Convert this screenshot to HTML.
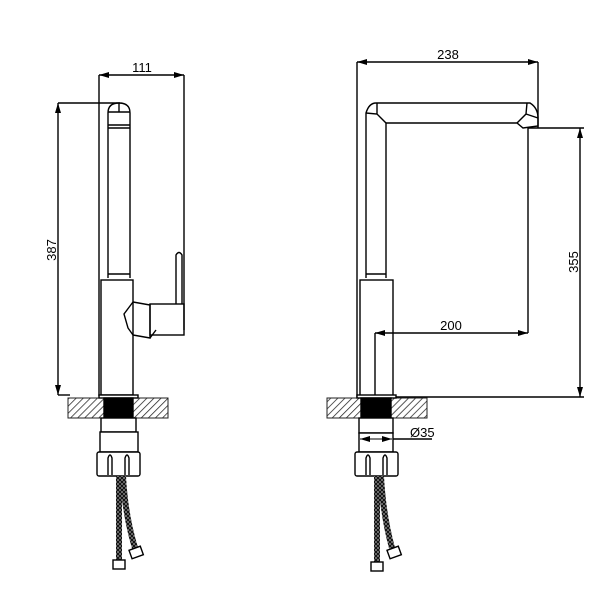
<!DOCTYPE html>
<html><head><style>body{margin:0;background:#fff}svg{display:block}</style></head><body>
<svg width="600" height="600" viewBox="0 0 600 600" xmlns="http://www.w3.org/2000/svg">
<defs>
<pattern id="h" width="5" height="5" patternUnits="userSpaceOnUse" patternTransform="rotate(45)">
<line x1="0" y1="0" x2="0" y2="5" stroke="#222" stroke-width="1.5"/></pattern>
<marker id="a" markerWidth="10" markerHeight="6" refX="10" refY="3" orient="auto-start-reverse" markerUnits="userSpaceOnUse"><path d="M0,0 L10,3 L0,6z" fill="#000"/></marker>
<pattern id="br" width="4" height="4" patternUnits="userSpaceOnUse"><rect width="4" height="4" fill="#999"/><path d="M0,0L4,4M4,0L0,4" stroke="#111" stroke-width="1.2"/></pattern>
</defs>
<g fill="none" stroke="#000" stroke-width="1.4" font-family="Liberation Sans, sans-serif">
<line x1="99" y1="75" x2="99" y2="396"/>
<line x1="184" y1="75" x2="184" y2="330"/>
<line x1="99" y1="75" x2="184" y2="75" marker-start="url(#a)" marker-end="url(#a)"/>
<line x1="58" y1="103" x2="120" y2="103"/>
<line x1="58" y1="103" x2="58" y2="395" marker-start="url(#a)" marker-end="url(#a)"/>
<line x1="58" y1="395" x2="70" y2="395"/>
<path d="M108,278 L108,113 Q108,103 119,103 Q130,103 130,113 L130,278"/>
<line x1="108" y1="125" x2="130" y2="125"/>
<line x1="108" y1="128" x2="130" y2="128"/>
<line x1="119" y1="103" x2="119" y2="112"/>
<line x1="108" y1="112" x2="130" y2="112"/>
<line x1="108" y1="274" x2="130" y2="274"/>
<rect x="101" y="280" width="32" height="115"/>
<path d="M133,302 L124,314 L128,328 L133,335"/>
<path d="M133,302 L150,305 L150,338 L133,335"/>
<rect x="150" y="304" width="34" height="31"/>
<path d="M176,304 L176,255 Q179,250 182,255 L182,304"/>
<line x1="150" y1="338" x2="156" y2="330"/>
<rect x="68" y="398" width="100" height="20" fill="url(#h)" stroke="#222" stroke-width="1"/>
<rect x="99" y="395" width="39" height="3" fill="#fff"/>
<rect x="104" y="398" width="29" height="20" fill="#000"/>
<rect x="101" y="418" width="35" height="14" fill="#fff"/>
<rect x="100" y="432" width="38" height="20" fill="#fff"/>
<rect x="97" y="452" width="43" height="24" rx="2" fill="#fff"/>
<path d="M108,475 L108,458 Q110,452 112,458 L112,475 M125,475 L125,458 Q127,452 129,458 L129,475"/>
<path d="M119,476 L119,560" stroke="url(#br)" stroke-width="6"/>
<path d="M123,476 Q125,515 135,548" stroke="url(#br)" stroke-width="6"/>
<rect x="113" y="560" width="12" height="9" fill="#fff"/>
<rect x="130" y="548" width="12" height="9" fill="#fff" transform="rotate(-20 136 552)"/>

<line x1="357" y1="62" x2="357" y2="398"/>
<line x1="538" y1="62" x2="538" y2="128"/>
<line x1="357" y1="62" x2="538" y2="62" marker-start="url(#a)" marker-end="url(#a)"/>
<line x1="528" y1="128" x2="584" y2="128"/>
<line x1="580" y1="128" x2="580" y2="397" marker-start="url(#a)" marker-end="url(#a)"/>
<line x1="393" y1="397" x2="584" y2="397"/>
<line x1="528" y1="128" x2="528" y2="333"/>
<line x1="375" y1="333" x2="375" y2="397"/>
<line x1="375" y1="333" x2="528" y2="333" marker-start="url(#a)" marker-end="url(#a)"/>
<path d="M366,278 L366,113 Q369,103 376,103 L530,103 Q538,108 538,118 L538,126 L523,128 L517,123 L386,123 L386,278"/>
<path d="M366,113 L377,114 L386,123 M377,103 L377,114 M527,103 L526,114 L517,123 M526,114 L538,118"/>
<line x1="366" y1="274" x2="386" y2="274"/>
<rect x="360" y="280" width="33" height="117"/>
<rect x="327" y="398" width="100" height="20" fill="url(#h)" stroke="#222" stroke-width="1"/>
<rect x="357" y="395" width="39" height="3" fill="#fff"/>
<rect x="361" y="398" width="30" height="20" fill="#000"/>
<rect x="359" y="418" width="34" height="15" fill="#fff"/>
<rect x="359" y="433" width="34" height="19" fill="#fff"/>
<line x1="393" y1="439" x2="432" y2="439"/>
<line x1="360" y1="439" x2="392" y2="439" marker-start="url(#a)" marker-end="url(#a)" stroke-width="1"/>
<rect x="355" y="452" width="43" height="24" rx="2" fill="#fff"/>
<path d="M366,475 L366,458 Q368,452 370,458 L370,475 M383,475 L383,458 Q385,452 387,458 L387,475"/>
<path d="M377,476 L377,562" stroke="url(#br)" stroke-width="6"/>
<path d="M381,476 Q383,515 392,548" stroke="url(#br)" stroke-width="6"/>
<rect x="371" y="562" width="12" height="9" fill="#fff"/>
<rect x="388" y="548" width="12" height="9" fill="#fff" transform="rotate(-20 394 552)"/>
</g>
<g font-family="Liberation Sans, sans-serif" font-size="13" fill="#000">
<text x="142" y="72" text-anchor="middle">111</text>
<text transform="translate(56,250) rotate(-90)" text-anchor="middle">387</text>
<text x="448" y="59" text-anchor="middle">238</text>
<text transform="translate(578,262) rotate(-90)" text-anchor="middle">355</text>
<text x="451" y="330" text-anchor="middle">200</text>
<text x="410" y="437">Ø35</text>
</g>
</svg>
</body></html>
